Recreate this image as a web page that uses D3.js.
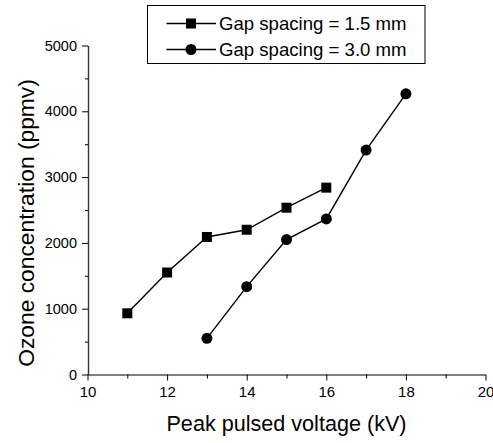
<!DOCTYPE html>
<html>
<head>
<meta charset="utf-8">
<script src="https://cdn.jsdelivr.net/npm/d3@7"></script>
<style>
  html, body { margin: 0; padding: 0; background: #fff; }
  svg { display: block; font-family: "Liberation Sans", Arial, sans-serif; }
</style>
</head>
<body>
<svg id="chart" width="493" height="443"></svg>
<script>
const xValuesA = [11, 12, 13, 14, 15, 16];
const seriesA = [930, 1550, 2090, 2200, 2535, 2840];
const xValuesB = [13, 14, 15, 16, 17, 18];
const seriesB = [550, 1335, 2050, 2365, 3410, 4265];
const seriesNames = ["Gap spacing = 1.5 mm", "Gap spacing = 3.0 mm"];
const xTicks = [10, 12, 14, 16, 18, 20];
const xMinorTicks = [11, 13, 15, 17, 19];
const yTicks = [0, 1000, 2000, 3000, 4000, 5000];
const yMinorTicks = [500, 1500, 2500, 3500, 4500];
const xTitle = "Peak pulsed voltage (kV)";
const yTitle = "Ozone concentration (ppmv)";

const svg = d3.select("#chart");
const x = d3.scaleLinear().domain([10, 20]).range([87.5, 485.5]);
const y = d3.scaleLinear().domain([0, 5000]).range([374.5, 45.5]);

// X axis
const gx = svg.append("g").attr("transform", `translate(0,${y(0)})`);
gx.call(d3.axisBottom(x).tickValues(xTicks).tickSize(6).tickSizeOuter(0).tickPadding(6).tickFormat(d3.format("d")));
gx.append("g").call(d3.axisBottom(x).tickValues(xMinorTicks).tickSize(4).tickSizeOuter(0).tickFormat(""))
  .select(".domain").remove();
gx.selectAll("text").attr("font-size", 15).attr("fill", "#000").attr("font-family", "Liberation Sans, Arial, sans-serif");
gx.selectAll("line").attr("stroke", "#000");
gx.select(".domain").attr("stroke", "#000").attr("stroke-width", 1.2);

// Y axis
const gy = svg.append("g").attr("transform", `translate(${x(10) + 0.5},0)`);
gy.call(d3.axisLeft(y).tickValues(yTicks).tickSize(6).tickSizeOuter(0).tickPadding(5).tickFormat(d3.format("d")));
gy.append("g").call(d3.axisLeft(y).tickValues(yMinorTicks).tickSize(3).tickSizeOuter(0).tickFormat(""))
  .select(".domain").remove();
gy.selectAll("text").attr("font-size", 14.5).attr("fill", "#000").attr("font-family", "Liberation Sans, Arial, sans-serif");
gy.selectAll("line").attr("stroke", "#000");
gy.select(".domain").attr("stroke", "#333").attr("stroke-width", 1.4);

// Titles
svg.append("text")
  .attr("x", 286.5).attr("y", 431)
  .attr("text-anchor", "middle")
  .attr("font-size", 21.6)
  .text(xTitle);
svg.append("text")
  .attr("transform", `translate(34,223) rotate(-90)`)
  .attr("text-anchor", "middle")
  .attr("font-size", 22.8)
  .text(yTitle);

// Lines
const lineGen = d3.line().x(d => x(d[0])).y(d => y(d[1]));
const dataA = xValuesA.map((v, i) => [v, seriesA[i]]);
const dataB = xValuesB.map((v, i) => [v, seriesB[i]]);

svg.append("path").datum(dataA).attr("d", lineGen)
  .attr("fill", "none").attr("stroke", "#000").attr("stroke-width", 1.4);
svg.append("path").datum(dataB).attr("d", lineGen)
  .attr("fill", "none").attr("stroke", "#000").attr("stroke-width", 1.4);

const sq = 10;
svg.selectAll("rect.ptA").data(dataA).enter().append("rect")
  .attr("class", "ptA")
  .attr("x", d => x(d[0]) - sq / 2).attr("y", d => y(d[1]) - sq / 2)
  .attr("width", sq).attr("height", sq).attr("fill", "#000");
svg.selectAll("circle.ptB").data(dataB).enter().append("circle")
  .attr("class", "ptB")
  .attr("cx", d => x(d[0])).attr("cy", d => y(d[1]))
  .attr("r", 5.5).attr("fill", "#000");

// Legend
const lg = svg.append("g");
lg.append("rect").attr("x", 147.5).attr("y", 5.5).attr("width", 277.5).attr("height", 58)
  .attr("fill", "#fff").attr("stroke", "#000").attr("stroke-width", 1);
const rows = [23.5, 49.5];
rows.forEach((ry, i) => {
  lg.append("line").attr("x1", 166.5).attr("x2", 216).attr("y1", ry).attr("y2", ry)
    .attr("stroke", "#000").attr("stroke-width", 1.4);
  if (i === 0) {
    lg.append("rect").attr("x", 191 - sq / 2).attr("y", ry - sq / 2).attr("width", sq).attr("height", sq).attr("fill", "#000");
  } else {
    lg.append("circle").attr("cx", 191).attr("cy", ry).attr("r", 5.5).attr("fill", "#000");
  }
  lg.append("text").attr("x", 219).attr("y", ry + 6.5)
    .attr("font-size", 18.6).text(seriesNames[i]);
});
</script>
</body>
</html>
